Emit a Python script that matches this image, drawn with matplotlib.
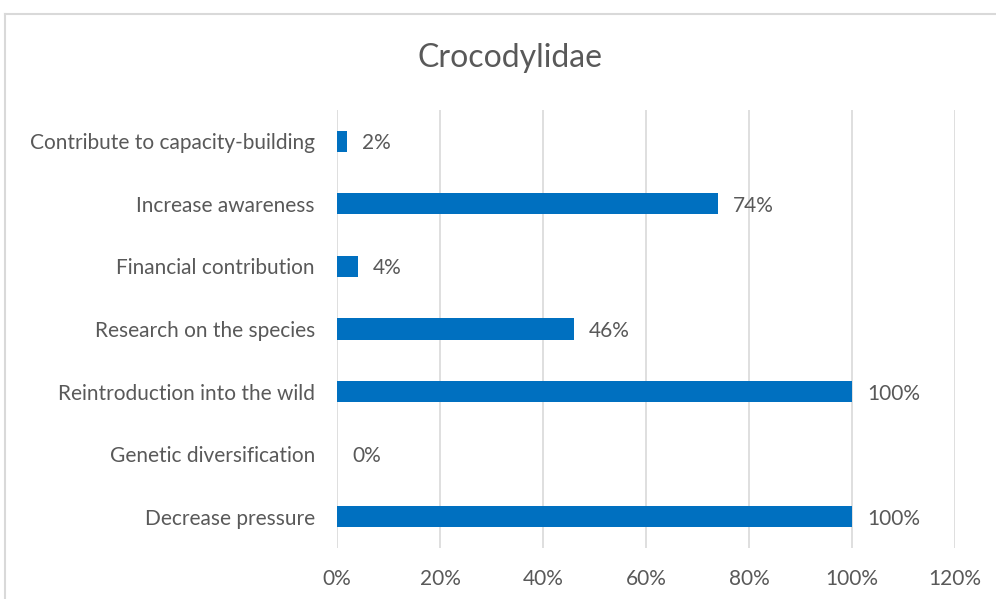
import matplotlib
matplotlib.use("Agg")
import matplotlib.pyplot as plt
from matplotlib.lines import Line2D

# data, bottom to top as drawn
categories = ["Decrease pressure", "Genetic diversification", "Reintroduction into the wild",
              "Research on the species", "Financial contribution", "Increase awareness",
              "Contribute to capacity-building"]
values = [100, 0, 100, 46, 4, 74, 2]
ticks = [0, 20, 40, 60, 80, 100, 120]

plt.rcParams['font.family'] = ['Lato', 'DejaVu Sans']
grey = '#595959'
blue = '#0070C0'
fs = 15

fig = plt.figure(figsize=(9.96, 5.99), dpi=100)
ax = fig.add_axes([337/996, 1-548/599, (955-337)/996, (548-110)/599])

pos = range(len(categories))
ax.barh(pos, values, height=0.34, color=blue, zorder=3)
for p, v in zip(pos, values):
    ax.annotate(f"{v}%", (v, p), xytext=(15, -2), textcoords='offset pixels',
                va='center', ha='left', fontsize=fs, color=grey)

ax.set_xlim(0, 120)
ax.set_ylim(-0.5, len(categories) - 0.5)
ax.set_xticks(ticks)
ax.set_xticklabels([f"{t}%" for t in ticks], fontsize=fs, color=grey)
ax.set_yticks(list(pos))
ax.set_yticklabels(categories, fontsize=fs, color=grey)
ax.tick_params(axis='both', length=0)
ax.tick_params(axis='x', pad=15)
ax.tick_params(axis='y', pad=16)
ax.grid(axis='x', color='#D9D9D9', linewidth=1.2, zorder=0)
for s in ax.spines.values():
    s.set_visible(False)

fig.text(510/996, 1-58/599, "Crocodylidae", ha='center', va='center', fontsize=23, color=grey)

# chart border (only top and left visible in the crop)
fig.add_artist(Line2D([5/996, 5/996], [0, 1-14/599], transform=fig.transFigure, color='#D9D9D9', lw=1.5))
fig.add_artist(Line2D([5/996, 1], [1-14/599, 1-14/599], transform=fig.transFigure, color='#D9D9D9', lw=1.5))

fig.savefig("out.png", dpi=100)
